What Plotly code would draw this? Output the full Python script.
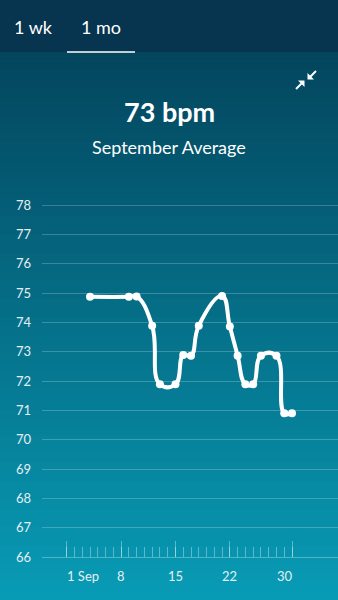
import plotly.graph_objects as go

# ---- data ----
days = [4, 9, 10, 12, 13, 15, 16, 17, 18, 21, 22, 23, 24, 25, 26, 28, 29, 30]
bpm = [74.87, 74.87, 74.88, 73.88, 71.89, 71.89, 72.89, 72.86, 73.88, 74.9,
       73.86, 72.86, 71.89, 71.89, 72.86, 72.86, 70.9, 70.9]
x_tick_vals = [1, 8, 15, 22, 30]
x_tick_text = ["1 Sep", "8", "15", "22", "30"]
y_tick_vals = list(range(66, 79))
month_days = list(range(1, 31))
tabs = ["1 wk", "1 mo"]
headline = "73 bpm"
subtitle = "September Average"

W, H = 338, 600
FONT = "Lato, 'Open Sans', sans-serif"


def px(x):
    return x / W


def py(y):
    return 1 - y / H


fig = go.Figure()

# main line
fig.add_trace(go.Scatter(
    x=days, y=bpm, mode="lines+markers",
    line=dict(color="white", width=4, shape="spline", smoothing=1.3),
    marker=dict(color="white", size=8),
    hoverinfo="skip", showlegend=False,
))

# tick dots under the axis
fig.add_trace(go.Scatter(
    x=x_tick_vals, y=[65.78] * len(x_tick_vals), mode="markers",
    marker=dict(color="white",
                size=[6 if (i == 0 or i == len(x_tick_vals) - 1) else 3
                      for i in range(len(x_tick_vals))]),
    cliponaxis=False, hoverinfo="skip", showlegend=False,
))

# gradient background strips
shapes = []
top_c = (3, 70, 94)
bot_c = (8, 155, 181)
y0, y1 = 52, 600
n = 60
for i in range(n):
    t = i / (n - 1)
    c = tuple(int(round(top_c[k] + (bot_c[k] - top_c[k]) * t)) for k in range(3))
    ya = y0 + (y1 - y0) * i / n
    yb = y0 + (y1 - y0) * (i + 1) / n + 0.5
    shapes.append(dict(type="rect", xref="paper", yref="paper", layer="below",
                       x0=0, x1=1, y0=py(yb), y1=py(ya),
                       fillcolor="rgb(%d,%d,%d)" % c, line=dict(width=0)))
# top bar
shapes.append(dict(type="rect", xref="paper", yref="paper", layer="below",
                   x0=0, x1=1, y0=py(52), y1=1,
                   fillcolor="#07344f", line=dict(width=0)))
# tab underline
shapes.append(dict(type="line", xref="paper", yref="paper",
                   x0=px(67), x1=px(135), y0=py(52), y1=py(52),
                   line=dict(color="white", width=1.5)))


def path(points, close):
    s = "M " + " L ".join("%f,%f" % (px(a), py(b)) for a, b in points)
    return s + (" Z" if close else "")


# compress icon
icon = [
    ([(307.5, 79.5), (307.5, 73.0), (314.0, 79.5)], True),
    ([(310.0, 77.0), (316.0, 71.0)], False),
    ([(304.5, 80.5), (304.5, 87.0), (298.0, 80.5)], True),
    ([(302.0, 83.0), (296.0, 89.0)], False),
]
for pts, closed in icon:
    shapes.append(dict(type="path", xref="paper", yref="paper",
                       path=path(pts, closed),
                       fillcolor="white" if closed else None,
                       line=dict(color="white", width=0 if closed else 2)))


def label(text, x, y, size, color="white"):
    return dict(text=text, x=px(x), y=py(y), xref="paper", yref="paper",
                xanchor="center", yanchor="middle", showarrow=False,
                font=dict(family=FONT, size=size, color=color))


annotations = [
    label(tabs[0], 33, 27, 18),
    label(tabs[1], 101, 27, 18),
    label("<b>" + headline + "</b>", W / 2, 111, 27),
    label(subtitle, W / 2, 147, 18),
]

# x-axis labels: first anchored left, last anchored right, others centered
for i, (v, t) in enumerate(zip(x_tick_vals, x_tick_text)):
    anchor = "left" if i == 0 else ("right" if i == len(x_tick_vals) - 1 else "center")
    shift = -2 if i == 0 else (3 if i == len(x_tick_vals) - 1 else 0)
    annotations.append(dict(text=t, x=v, y=py(576), xref="x", yref="paper",
                            xanchor=anchor, yanchor="middle", xshift=shift,
                            showarrow=False,
                            font=dict(family=FONT, size=13, color="#e4eff3")))

# y: 66 at px 557, 78 at px 205 -> 29.333 px / unit
ppu = (557 - 205) / 12
y_top_val = 78.5
y_top_px = 557 - (y_top_val - 66) * ppu
# x: day 1 at 66.7, day 30 at 292
ppd = (292 - 66.7) / 29
x_left = 1 + (42 - 66.7) / ppd
x_right = 1 + (338 - 66.7) / ppd

fig.update_layout(
    width=W, height=H,
    margin=dict(l=0, r=0, t=0, b=0),
    paper_bgcolor="#0a6f86",
    plot_bgcolor="rgba(0,0,0,0)",
    shapes=shapes,
    annotations=annotations,
    font=dict(family=FONT, color="#e4eff3", size=13),
    xaxis=dict(
        domain=[px(42), 1], range=[x_left, x_right],
        tickvals=x_tick_vals, showticklabels=False,
        ticks="inside", ticklen=16, tickwidth=1,
        tickcolor="rgba(255,255,255,0.35)",
        minor=dict(tickvals=month_days, ticks="inside", ticklen=10,
                   tickwidth=1, tickcolor="rgba(255,255,255,0.35)",
                   showgrid=False),
        showgrid=False, zeroline=False,
        showline=True, linecolor="rgba(255,255,255,0.3)", linewidth=1,
        automargin=False, fixedrange=True,
    ),
    yaxis=dict(
        domain=[py(557), py(y_top_px)], range=[66, y_top_val],
        tickvals=y_tick_vals, ticks="",
        showgrid=True, gridcolor="rgba(255,255,255,0.22)", gridwidth=1,
        zeroline=False, showline=False,
        ticklabelstandoff=10, automargin=False, fixedrange=True,
        tickfont=dict(size=13, color="#e4eff3"),
    ),
)

fig.write_html("out.html", config=dict(displayModeBar=False))
